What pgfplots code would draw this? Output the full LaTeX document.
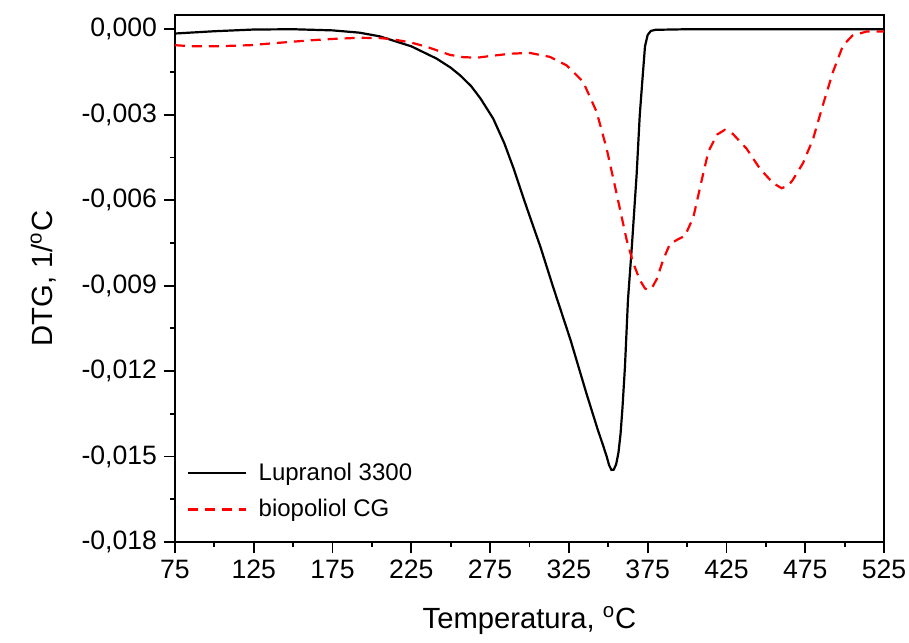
\documentclass[border=0pt]{standalone}
\usepackage{pgfplots}
\pgfplotsset{compat=1.18}
\usepackage{fontspec}
\setmainfont{Liberation Sans}
\begin{document}
\begin{tikzpicture}
\begin{axis}[
  name=ax,
  scale only axis,
  width=354.5pt, height=263.5pt,
  xmin=75, xmax=525, ymin=-0.018, ymax=0.0005,
  xtick={75,125,...,525},
  ytick={-0.018,-0.015,-0.012,-0.009,-0.006,-0.003,0},
  minor x tick num=1, minor y tick num=1,
  xtick pos=lower, ytick pos=left,
  tick align=outside,
  major tick length=5.5pt, minor tick length=2.5pt,
  axis line style={line width=1pt},
  every tick/.style={line width=0.9pt, black},
  scaled y ticks=false,
  yticklabel style={/pgf/number format/.cd, fixed, fixed zerofill, precision=3, use comma, 1000 sep={}, assume math mode=true},
  xticklabel style={/pgf/number format/assume math mode=true},
  tick label style={font=\fontsize{13.3}{15}\selectfont},
  label style={font=\fontsize{14.6}{17}\selectfont},
  xlabel={Temperatura, \textsuperscript{o}C},
  ylabel={DTG, 1/\textsuperscript{o}C},
  xlabel style={yshift=-7pt},
  ylabel style={yshift=6pt},
  legend style={at={(rel axis cs:0.01,0.166)}, anchor=north west, draw=none, fill=white,
    font=\fontsize{12}{14}\selectfont, row sep=4pt, inner sep=2pt},
  legend cell align=left,
  legend image code/.code={\draw[#1] (0pt,0pt) -- (29pt,0pt); \path (33pt,0pt);},
]
\addplot[black, line width=1.1pt] coordinates {
(75,-0.00015) (100,-0.00007) (125,-0.00001) (150,0.0) (175,-0.00004) (192,-0.00012)
(205,-0.00025) (213,-0.00039) (225,-0.00060) (241,-0.00103) (250,-0.00135) (256,-0.00162)
(263,-0.00200) (269,-0.00244) (277,-0.00314) (284,-0.00400) (290,-0.00490) (296,-0.00590)
(301,-0.00670) (307,-0.00765) (315,-0.00905) (326,-0.01090) (336,-0.01276) (343,-0.01400) (347,-0.01466)
(349,-0.01500) (350.5,-0.01530) (352,-0.01547) (353.5,-0.01546) (355,-0.01527) (356.5,-0.01485)
(357.8,-0.01420) (359,-0.01330)
(360.6,-0.01184) (362.5,-0.00950) (365,-0.00760) (368,-0.00510) (370,-0.00300) (371.5,-0.00190)
(373.3,-0.00060) (375,-0.00020) (377,-0.00006) (380,-0.00002) (400,0.0) (525,0.0)
};
\addlegendentry{Lupranol 3300}
\addplot[red, line width=1.1pt, dash pattern=on 5pt off 3.5pt] coordinates {
(75,-0.00056) (86,-0.00060) (100,-0.00060) (122.6,-0.00056) (140,-0.00048) (160.7,-0.00039)
(175,-0.00034) (192,-0.00030) (205,-0.00031) (213,-0.00035) (225,-0.00047) (235,-0.00062)
(249.5,-0.00090) (258,-0.00098) (266.7,-0.00100) (275,-0.00094) (287.6,-0.00086) (300,-0.00083)
(313,-0.00097) (323.6,-0.00127) (334,-0.00184) (342.6,-0.00290) (349,-0.00420) (355,-0.00570)
(361.7,-0.00740) (365.8,-0.00820) (370,-0.00880) (373.3,-0.00910) (375.5,-0.00915) (378,-0.00905)
(380.7,-0.00878) (384.8,-0.00810) (389,-0.00755) (394,-0.00738) (398.7,-0.00725) (404,-0.00660)
(409.3,-0.00530) (413.5,-0.00430) (419,-0.00370) (424,-0.00353) (429,-0.00367) (437.9,-0.00420)
(446.3,-0.00490) (454.6,-0.00540) (460,-0.00558) (464,-0.00550) (467,-0.00530) (473.6,-0.00470)
(480,-0.00385) (486,-0.00270) (492.6,-0.00150) (499,-0.00057) (505,-0.00022) (514,-0.00008)
(525,-0.00008)
};
\addlegendentry{biopoliol CG}
\end{axis}
\pgfresetboundingbox
\path (ax.south west) ++(-87.5pt,-50pt) rectangle ++(454.5pt,321pt);
\end{tikzpicture}
\end{document}
